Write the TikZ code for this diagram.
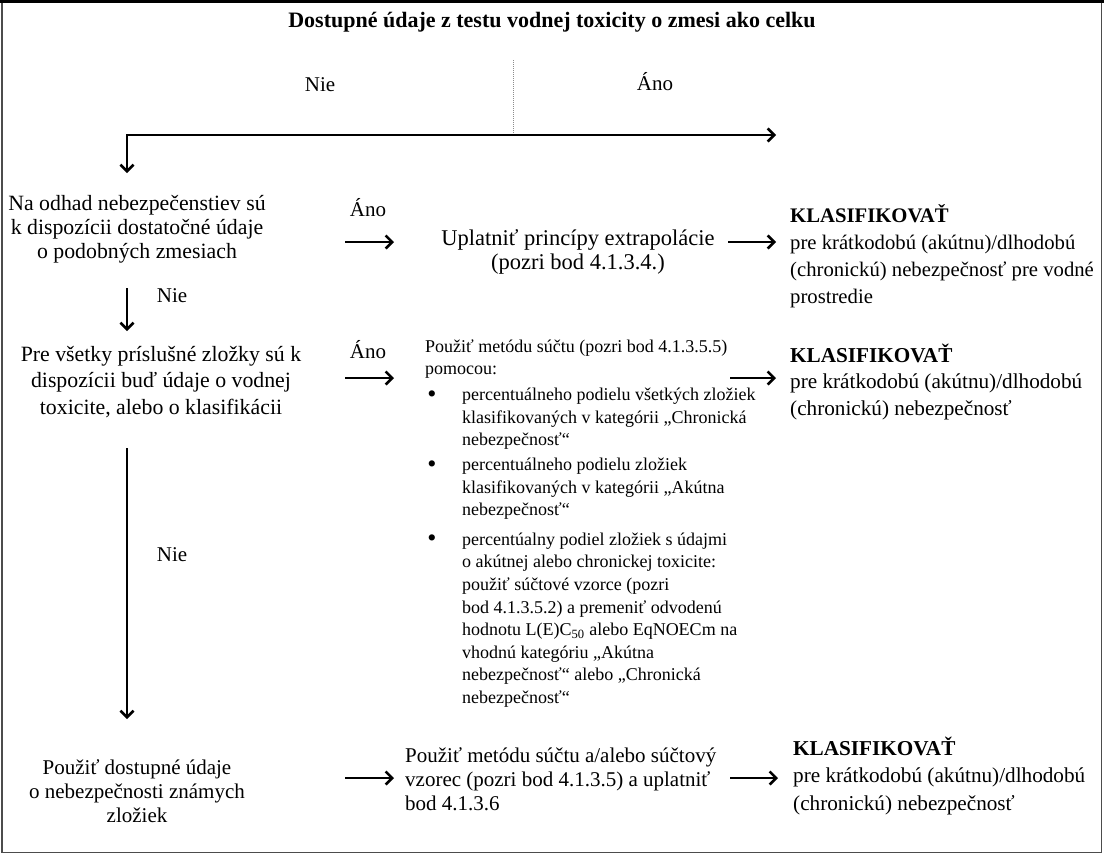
\documentclass[tikz,border=0pt]{standalone}
\usepackage{fontspec}
\setmainfont{Liberation Serif}
\usetikzlibrary{arrows.meta}
\begin{document}
\begin{tikzpicture}[x=1pt,y=-1pt,
  txt/.style={inner sep=0pt, font=\fontsize{21}{24}\selectfont},
  ctxt/.style={txt, align=center},
  ltxt/.style={txt, align=left, anchor=west},
  small/.style={inner sep=0pt, align=left, anchor=west, font=\fontsize{18}{22.6}\selectfont},
  bul/.style={inner sep=0pt, font=\fontsize{26}{26}\selectfont},
  arr/.style={line width=2.6pt, -{Straight Barb[length=6.5pt,width=13pt]}},
  thinline/.style={line width=1pt, black!45, densely dotted}
]
\useasboundingbox (0,0) rectangle (1104,855);
% frame
\draw[line width=1.6pt, black!70] (2,2) rectangle (1101.5,852.5);
\draw[line width=3pt] (0,1.5) -- (1104,1.5);

% title
\node[txt, font=\fontsize{22}{24}\selectfont\bfseries] (title) at (552,22) {Dostupné údaje z testu vodnej toxicity o zmesi ako celku};
\node[txt] (nie0) at (320,85) {Nie};
\node[txt] (ano0) at (655,82) {Áno};
\coordinate (vtop) at (513,60);
\coordinate (split) at (513,135);
\coordinate (corner) at (127,135);
\coordinate (down0) at (127,173);
\coordinate (right0) at (776,135);
\draw[thinline] (vtop) -- (split);
\draw[arr] (split) -- (corner) -- (down0);
\draw[arr] (split) -- (right0);

% row 1
\node[ctxt, font=\fontsize{21.8}{24}\selectfont] (l1) at (137,229) {Na odhad nebezpečenstiev sú\\k dispozícii dostatočné údaje\\o podobných zmesiach};
\node[txt] (ano1) at (368,208) {Áno};
\node[ctxt, font=\fontsize{22.5}{24}\selectfont] (m1) at (578,252) {Uplatniť princípy extrapolácie\\(pozri bod 4.1.3.4.)};
\node[ltxt, font=\fontsize{20.7}{27}\selectfont] (r1) at (790,256) {\textbf{KLASIFIKOVAŤ}\\pre krátkodobú (akútnu)/dlhodobú\\(chronickú) nebezpečnosť pre vodné\\prostredie};
\coordinate (a1s) at (345,242); \coordinate (a1e) at (394,242);
\coordinate (b1s) at (728,242); \coordinate (b1e) at (776,242);
\draw[arr] (a1s) -- (a1e);
\draw[arr] (b1s) -- (b1e);
\coordinate (d1s) at (127,288); \coordinate (d1e) at (127,331);
\draw[arr] (d1s) -- (d1e);
\node[txt] (nie1) at (172,296) {Nie};

% row 2
\node[ctxt, font=\fontsize{21.8}{26.5}\selectfont] (l2) at (161,382) {Pre všetky príslušné zložky sú k\\dispozícii buď údaje o vodnej\\toxicite, alebo o klasifikácii};
\node[txt] (ano2) at (368,350) {Áno};
\node[small] (m2) at (425,359) {Použiť metódu súčtu (pozri bod 4.1.3.5.5)\\pomocou:};
\node[small] (i1) at (462,419) {percentuálneho podielu všetkých zložiek\\klasifikovaných v kategórii „Chronická\\nebezpečnosť“};
\node[small] (i2) at (462,489) {percentuálneho podielu zložiek\\klasifikovaných v kategórii „Akútna\\nebezpečnosť“};
\node[small] (i3) at (462,620) {percentúalny podiel zložiek s údajmi\\o akútnej alebo chronickej toxicite:\\použiť súčtové vzorce (pozri\\bod 4.1.3.5.2) a premeniť odvodenú\\hodnotu L(E)C\textsubscript{50} alebo EqNOECm na\\vhodnú kategóriu „Akútna\\nebezpečnosť“ alebo „Chronická\\nebezpečnosť“};
\node[bul] (bu1) at (432,397) {•};
\node[bul] (bu2) at (432,467) {•};
\node[bul] (bu3) at (432,541) {•};
\node[ltxt, font=\fontsize{21.2}{26.5}\selectfont] (r2) at (790,382) {\textbf{KLASIFIKOVAŤ}\\pre krátkodobú (akútnu)/dlhodobú\\(chronickú) nebezpečnosť};
\coordinate (a2s) at (345,378); \coordinate (a2e) at (394,378);
\coordinate (b2s) at (730,378); \coordinate (b2e) at (776,378);
\draw[arr] (a2s) -- (a2e);
\draw[arr] (b2s) -- (b2e);
\coordinate (d2s) at (127,448); \coordinate (d2e) at (127,719);
\draw[arr] (d2s) -- (d2e);
\node[txt] (nie2) at (172,555) {Nie};

% row 3
\node[ctxt] (l3) at (137,791) {Použiť dostupné údaje\\o nebezpečnosti známych\\zložiek};
\node[ltxt] (m3) at (405,779) {Použiť metódu súčtu a/alebo súčtový\\vzorec (pozri bod 4.1.3.5) a uplatniť\\bod 4.1.3.6};
\node[ltxt, font=\fontsize{21.2}{27.5}\selectfont] (r3) at (793,776) {\textbf{KLASIFIKOVAŤ}\\pre krátkodobú (akútnu)/dlhodobú\\(chronickú) nebezpečnosť};
\coordinate (a3s) at (345,778); \coordinate (a3e) at (394,778);
\coordinate (b3s) at (730,778); \coordinate (b3e) at (778,778);
\draw[arr] (a3s) -- (a3e);
\draw[arr] (b3s) -- (b3e);
\end{tikzpicture}
\end{document}
